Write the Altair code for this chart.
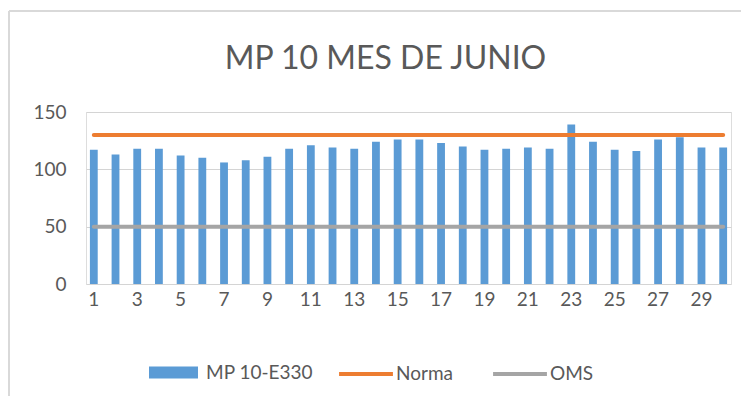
import altair as alt
import pandas as pd

days = list(range(1, 31))
mp10 = [117, 113, 118, 118, 112, 110, 106, 108, 111, 118,
        121, 119, 118, 124, 126, 126, 123, 120, 117, 118,
        119, 118, 139, 124, 117, 116, 126, 128, 119, 119]
norma = [130] * 30
oms = [50] * 30
series = ["MP 10-E330", "Norma", "OMS"]
colors = ["#5b9bd5", "#ed7d31", "#a5a5a5"]
x_ticks = list(range(1, 31, 2))
y_ticks = [0, 50, 100, 150]

df = pd.DataFrame({"dia": days, "valor": mp10, "serie": series[0]})
dl = pd.DataFrame({
    "dia": days * 2,
    "valor": norma + oms,
    "serie": [series[1]] * 30 + [series[2]] * 30,
})

FONT = "Lato"
TXT = "#595959"
FS = 19

bar_legend = alt.Legend(
    title=None, orient="none", direction="horizontal",
    legendX=63, legendY=236,
    symbolType="M-1,-0.24L1,-0.24L1,0.24L-1,0.24Z",
    symbolSize=2400, labelFontSize=FS, labelColor=TXT, labelFont=FONT,
    labelOffset=8, symbolStrokeWidth=0,
)
line_legend = alt.Legend(
    title=None, orient="none", direction="horizontal",
    legendX=251, legendY=233,
    symbolType="stroke",
    symbolSize=2900, labelFontSize=FS, labelColor=TXT, labelFont=FONT,
    labelOffset=1, columnPadding=32, symbolStrokeWidth=4,
)

x_enc = alt.X("dia:O", scale=alt.Scale(paddingInner=0.64, paddingOuter=0.18),
              axis=alt.Axis(values=x_ticks, labelAngle=0, ticks=False, domain=False,
                            labelFontSize=FS, labelColor=TXT, labelFont=FONT,
                            labelPadding=6, title=None, grid=False))
y_enc = alt.Y("valor:Q", scale=alt.Scale(domain=[0, 150], nice=False),
              axis=alt.Axis(values=y_ticks, ticks=False, domain=False,
                            labelFontSize=FS, labelColor=TXT, labelFont=FONT,
                            labelPadding=20, gridColor="#d4d4d4", title=None))

bars = alt.Chart(df).mark_bar().encode(
    x=x_enc, y=y_enc,
    fill=alt.Fill("serie:N", scale=alt.Scale(domain=series[:1], range=colors[:1]),
                  legend=bar_legend),
)
lines = alt.Chart(dl).mark_line(strokeWidth=4, strokeCap="round").encode(
    x=x_enc, y=y_enc,
    stroke=alt.Stroke("serie:N", scale=alt.Scale(domain=series[1:], range=colors[1:]),
                      legend=line_legend),
)
border_top = alt.Chart(pd.DataFrame({"a": [0]})).mark_rule(color="#d9d9d9", strokeWidth=2).encode(
    x=alt.value(-77), x2=alt.value(660), y=alt.value(-101))
border_left = alt.Chart(pd.DataFrame({"a": [0]})).mark_rule(color="#d9d9d9", strokeWidth=2).encode(
    x=alt.value(-77), y=alt.value(-101), y2=alt.value(300))

chart = alt.layer(border_top, border_left, bars, lines).properties(
    width=645, height=172,
    autosize=alt.AutoSizeParams(type="none"),
    padding={"left": 78, "top": 104, "right": 10, "bottom": 112},
    title=alt.Title("MP 10 MES DE JUNIO", fontSize=32, font=FONT, color=TXT,
                    fontWeight="normal", anchor="middle", dx=-23, offset=-66),
).configure_view(stroke=None).configure(background="white")

chart.save("out.html", embed_options={"renderer": "svg", "actions": False})
